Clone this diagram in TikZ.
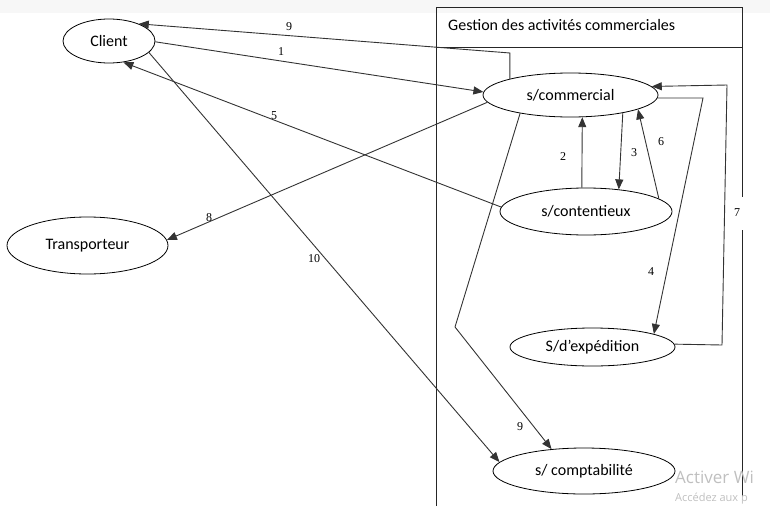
\documentclass[tikz,border=0pt]{standalone}
\usepackage{fontspec}
\setmainfont{Carlito}
\newfontfamily\numfont{Liberation Serif}
\newfontfamily\wmfont{Open Sans}
\usetikzlibrary{shapes.geometric,arrows.meta}
\begin{document}
\begin{tikzpicture}[x=1pt,y=-1pt,
  ell/.style={draw, ellipse, inner sep=0pt, line width=0.8pt, font=\fontsize{16}{18}\selectfont},
  conn/.style={line width=0.9pt, draw=black!80},
  arr/.style={conn, -{Triangle[length=10pt,width=8pt]}},
  num/.style={font=\numfont\fontsize{12}{14}\selectfont, inner sep=1pt},
  frame/.style={line width=0.8pt, draw=black!85}]
\useasboundingbox (0,0) rectangle (770,506);
\fill[black!3] (0,0) rectangle (770,13);
% frame
\draw[frame] (436,506) -- (436,7) -- (742,7) -- (742,197);
\draw[frame] (742,230) -- (742,497);
\draw[frame] (436,47) -- (742,47);
\node[anchor=west, font=\fontsize{16}{18}\selectfont, inner sep=0pt] (title) at (448,25) {Gestion des activités commerciales};
% nodes
\node[ell, minimum width=92pt, minimum height=44pt] (client) at (109,41) {Client};
\node[ell, minimum width=161pt, minimum height=57pt] (trans) at (87.5,245.5) {Transporteur};
\node[ell, minimum width=175pt, minimum height=44pt] (comm) at (570.5,95) {s/commercial};
\node[ell, minimum width=172pt, minimum height=47pt] (cont) at (586,211.5) {s/contentieux};
\node[ell, minimum width=165pt, minimum height=38pt] (exp) at (592.5,347) {S/d’expédition};
\node[ell, minimum width=182pt, minimum height=46pt] (compta) at (584,471) {s/ comptabilité};
% helper points
\coordinate (k9a) at (510,53);
\coordinate (k9b) at (455,327);
\coordinate (k4) at (703,98);
\coordinate (k7a) at (722,345);
\coordinate (k7b) at (727,85);
% connectors
\draw[arr] (comm.165.3) -- (comm.165.3 |- k9a) -- (client.30.5);
\draw[arr] (client.-1) -- (comm.178);
\draw[arr] (cont.177.6) -- (client.-56.3);
\draw[arr] (comm.185) -- (trans.4);
\draw[arr] (client.-16.7) -- (compta.174);
\draw[arr] (cont.100) -- (comm.-62.2);
\draw[arr] (comm.-19) -- (cont.34.3);
\draw[arr] (cont.10.6) -- (comm.-12.6);
\draw[arr] (comm.-2) -- (k4) -- (exp.12.5);
\draw[arr] (exp.2) -- (k7a) -- (k7b) -- (comm.6);
\draw[arr] (comm.200.7) -- (k9b) -- (compta.146.1);
% labels
\node[num] (l9a) at (289,27) {9};
\node[num] (l1) at (281,52) {1};
\node[num] (l5) at (274,116) {5};
\node[num] (l8) at (209,218) {8};
\node[num] (l10) at (314,259) {10};
\node[num] (l2) at (563,157) {2};
\node[num] (l3) at (634,153) {3};
\node[num] (l6) at (661,142) {6};
\node[num] (l4) at (651,272) {4};
\node[num, fill=white] (l7) at (737,213) {7};
\node[num] (l9b) at (520,427) {9};
% watermark (visible part only)
\node[anchor=base west, inner sep=0pt, text=black!25, font=\wmfont\fontsize{17}{19}\selectfont] (wm1) at (675,483) {Activer Wi};
\node[anchor=base west, inner sep=0pt, text=black!25, font=\wmfont\fontsize{11}{13}\selectfont] (wm2) at (675,501) {Accédez aux p};
\end{tikzpicture}
\end{document}
